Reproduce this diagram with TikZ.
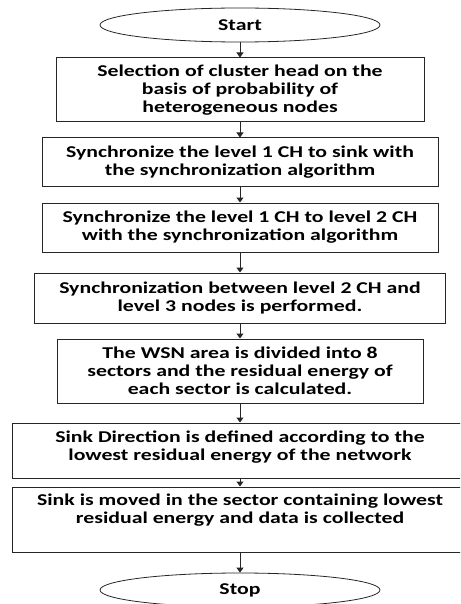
\documentclass[tikz,border=0pt]{standalone}
\usepackage{fontspec}
\setmainfont{Carlito}[FakeStretch=1.32]
\usetikzlibrary{shapes.geometric,arrows.meta}

\tikzset{
  stepbox/.style={draw=black!85, line width=1pt, rectangle, align=center,
    inner sep=2pt, font=\bfseries\fontsize{16.5}{18}\selectfont},
  term/.style={draw=black!85, line width=0.8pt, ellipse, inner sep=0pt,
    minimum width=280pt, minimum height=34pt, font=\bfseries\fontsize{16.5}{18}\selectfont},
  flow/.style={-{Triangle[length=5pt,width=7pt]}, line width=1pt, black!85}
}

\begin{document}
\begin{tikzpicture}[x=1pt,y=-1pt]
        \useasboundingbox (0,0) rectangle (460,604);
        \clip (0,0) rectangle (460,604);

        % Start and stop
        \node[term] (start) at (240,25) {Start};
        \node[term] (stop) at (240,590) {Stop};

        % Steps
        \node[stepbox, minimum width=368pt, minimum height=64pt] (sel) at (240,90)
            {Selection of cluster head on the\\basis of probability of\\heterogeneous nodes};
        \node[stepbox, minimum width=396pt, minimum height=48pt] (syncsink) at (240,162)
            {Synchronize the level 1 CH to sink with\\the synchronization algorithm};
        \node[stepbox, minimum width=396pt, minimum height=49pt] (synclvl) at (240,227.5)
            {Synchronize the level 1 CH to level 2 CH\\with the synchronization algorithm};
        \node[stepbox, minimum width=411pt, minimum height=50pt] (syncnodes) at (240,298)
            {Synchronization between level 2 CH and\\level 3 nodes is performed.};
        \node[stepbox, minimum width=366pt, minimum height=64pt] (sectors) at (240,371)
            {The WSN area is divided into 8\\sectors and the residual energy of\\each sector is calculated.};
        \node[stepbox, minimum width=456pt, minimum height=55pt] (dir) at (240,450.5)
            {Sink Direction is defined according to the\\lowest residual energy of the network\\[-9pt]};
        \node[stepbox, minimum width=456pt, minimum height=65pt] (move) at (240,519.5)
            {Sink is moved in the sector containing lowest\\residual energy and data is collected\\[3pt]};

        % Arrows
        \draw[flow] (start) -- (sel);
        \draw[flow] (sel) -- (syncsink);
        \draw[flow] (syncsink) -- (synclvl);
        \draw[flow] (synclvl) -- (syncnodes);
        \draw[flow] (syncnodes) -- (sectors);
        \draw[flow] (sectors) -- (dir);
        \draw[flow] (dir) -- (move);
        \draw[flow] (move) -- (stop);
    \end{tikzpicture}
\end{document}
